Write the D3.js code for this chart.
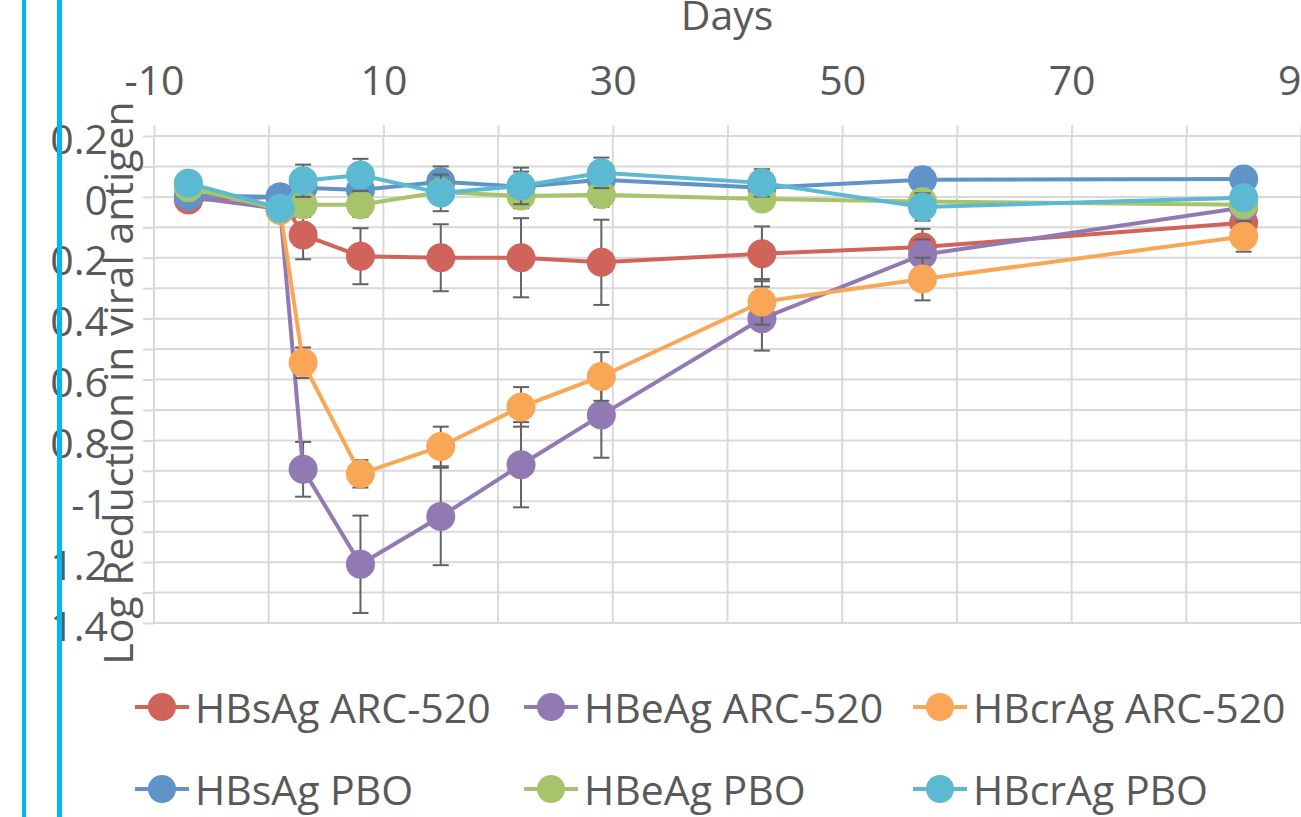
<!DOCTYPE html>
<html>
<head>
<meta charset="utf-8">
<script src="https://cdn.jsdelivr.net/npm/d3@7"></script>
<style>
  body { margin: 0; background: #fff; }
  svg text { font-family: "Open Sans", sans-serif; fill: #595959; }
</style>
</head>
<body>
<svg id="chart" width="1301" height="817"></svg>
<script>
// days of each measurement
var days = [-7, 1, 3, 8, 15, 22, 29, 43, 57, 85];

// log reduction means
var hbsArc   = [-0.01, 0.0, -0.125, -0.195, -0.2, -0.2, -0.215, -0.187, -0.165, -0.085];
var hbeArc   = [0.0, -0.04, -0.895, -1.207, -1.05, -0.88, -0.717, -0.4, -0.19, -0.035];
var hbcrArc  = [0.045, -0.045, -0.545, -0.91, -0.82, -0.69, -0.59, -0.345, -0.27, -0.13];
var hbsPbo   = [0.005, 0.0, 0.03, 0.023, 0.05, 0.033, 0.056, 0.03, 0.056, 0.059];
var hbePbo   = [0.03, -0.04, -0.026, -0.026, 0.016, 0.003, 0.007, -0.007, -0.015, -0.026];
var hbcrPbo  = [0.045, -0.037, 0.053, 0.072, 0.013, 0.036, 0.079, 0.046, -0.033, -0.003];

// error bar half widths
var hbsArcErr  = [0, 0.02, 0.08, 0.092, 0.11, 0.13, 0.14, 0.09, 0.06, 0.05];
var hbeArcErr  = [0, 0.02, 0.09, 0.16, 0.16, 0.14, 0.14, 0.105, 0.05, 0.03];
var hbcrArcErr = [0, 0.02, 0.05, 0.045, 0.065, 0.065, 0.08, 0.075, 0.07, 0.05];
var hbsPboErr  = [0, 0.02, 0.05, 0.05, 0.05, 0.05, 0.05, 0.045, 0.04, 0.03];
var hbePboErr  = [0, 0.02, 0.04, 0.04, 0.04, 0.04, 0.04, 0.03, 0.03, 0.03];
var hbcrPboErr = [0, 0.02, 0.053, 0.053, 0.06, 0.06, 0.05, 0.045, 0.045, 0.03];

var seriesNames = ["HBsAg ARC-520", "HBeAg ARC-520", "HBcrAg ARC-520",
                   "HBsAg PBO", "HBeAg PBO", "HBcrAg PBO"];
var seriesColors = ["#d0645a", "#917ab3", "#f9a757", "#6094c8", "#a7c46b", "#5bb9d2"];

var xTicks = [-10, 10, 30, 50, 70, 90];
var yTicks = [0.2, 0, -0.2, -0.4, -0.6, -0.8, -1, -1.2, -1.4];

var series = [
  { name: seriesNames[0], color: seriesColors[0], vals: hbsArc,  err: hbsArcErr },
  { name: seriesNames[1], color: seriesColors[1], vals: hbeArc,  err: hbeArcErr },
  { name: seriesNames[2], color: seriesColors[2], vals: hbcrArc, err: hbcrArcErr },
  { name: seriesNames[3], color: seriesColors[3], vals: hbsPbo,  err: hbsPboErr },
  { name: seriesNames[4], color: seriesColors[4], vals: hbePbo,  err: hbePboErr },
  { name: seriesNames[5], color: seriesColors[5], vals: hbcrPbo, err: hbcrPboErr }
];

var svg = d3.select("#chart");
var gridColor = "#d9d9d9";

var x = d3.scaleLinear().domain([-10, 90]).range([154, 1301]);
var y = d3.scaleLinear().domain([0.2, -1.4]).range([136, 623]);

var xMinor = d3.range(-10, 91, 10);
var yMinor = d3.range(-14, 3).map(function (k) { return k / 10; });

// gridlines
svg.append("g").selectAll("line").data(xMinor).enter().append("line")
  .attr("x1", function (d) { return x(d); })
  .attr("x2", function (d) { return x(d); })
  .attr("y1", y(0.2)).attr("y2", y(-1.4))
  .style("stroke", gridColor).style("stroke-width", 2);

svg.append("g").selectAll("line").data(yMinor).enter().append("line")
  .attr("x1", x(-10)).attr("x2", x(90))
  .attr("y1", function (d) { return y(d); })
  .attr("y2", function (d) { return y(d); })
  .style("stroke", gridColor).style("stroke-width", 2);

// top axis
var xAxis = d3.axisTop(x)
  .tickValues(xMinor)
  .tickSize(11)
  .tickPadding(30)
  .tickFormat(function (d) { return xTicks.indexOf(d) >= 0 ? d : ""; });

var gx = svg.append("g").attr("transform", "translate(0," + y(0.2) + ")").call(xAxis);
gx.select(".domain").remove();
gx.selectAll(".tick line").style("stroke", gridColor).style("stroke-width", 2);
gx.selectAll(".tick text").style("font-size", "41px").style("font-family", "Open Sans").attr("fill", "#595959");

// left axis, labels clipped at the left edge like the reference
svg.append("clipPath").attr("id", "yclip")
  .append("rect").attr("x", 51).attr("y", 0).attr("width", 1250).attr("height", 817);

var yAxis = d3.axisLeft(y)
  .tickValues(yMinor)
  .tickSize(11)
  .tickPadding(35)
  .tickFormat(function (d) {
    var hit = yTicks.some(function (t) { return Math.abs(t - d) < 1e-9; });
    return hit ? String(+d.toFixed(1)) : "";
  });

var gyWrap = svg.append("g").attr("clip-path", "url(#yclip)");
var gy = gyWrap.append("g").attr("transform", "translate(" + x(-10) + ",0)").call(yAxis);
gy.select(".domain").remove();
gy.selectAll(".tick line").style("stroke", gridColor).style("stroke-width", 2);
gy.selectAll(".tick text").style("font-size", "41px").style("font-family", "Open Sans")
  .attr("fill", "#595959").attr("dy", "0.42em");

// axis titles
svg.append("text")
  .attr("x", 727).attr("y", 30)
  .attr("text-anchor", "middle")
  .style("font-size", "41px")
  .text("Days");

svg.append("text")
  .attr("transform", "translate(133,383) rotate(-90)")
  .attr("text-anchor", "middle")
  .style("font-size", "41px")
  .text("Log Reduction in viral antigen");

// series
var line = d3.line()
  .x(function (d, i) { return x(days[i]); })
  .y(function (d) { return y(d); });

series.forEach(function (s) {
  var g = svg.append("g");

  var eb = g.selectAll("g.err").data(s.vals).enter().append("g").attr("class", "err");
  eb.append("line")
    .attr("x1", function (d, i) { return x(days[i]); })
    .attr("x2", function (d, i) { return x(days[i]); })
    .attr("y1", function (d, i) { return y(d + s.err[i]); })
    .attr("y2", function (d, i) { return y(d - s.err[i]); });
  eb.append("line")
    .attr("x1", function (d, i) { return x(days[i]) - 8; })
    .attr("x2", function (d, i) { return x(days[i]) + 8; })
    .attr("y1", function (d, i) { return y(d + s.err[i]); })
    .attr("y2", function (d, i) { return y(d + s.err[i]); });
  eb.append("line")
    .attr("x1", function (d, i) { return x(days[i]) - 8; })
    .attr("x2", function (d, i) { return x(days[i]) + 8; })
    .attr("y1", function (d, i) { return y(d - s.err[i]); })
    .attr("y2", function (d, i) { return y(d - s.err[i]); });
  eb.selectAll("line").style("stroke", "#626262").style("stroke-width", 2);

  g.append("path")
    .attr("d", line(s.vals))
    .style("fill", "none")
    .style("stroke", s.color)
    .style("stroke-width", 4);

  g.selectAll("circle").data(s.vals).enter().append("circle")
    .attr("cx", function (d, i) { return x(days[i]); })
    .attr("cy", function (d) { return y(d); })
    .attr("r", 14.5)
    .style("fill", s.color);
});

// legend
var legX = [162, 551, 940];
var legY = [707, 789];
var leg = svg.append("g").selectAll("g").data(series).enter().append("g")
  .attr("transform", function (d, i) {
    return "translate(" + legX[i % 3] + "," + legY[Math.floor(i / 3)] + ")";
  });
leg.append("line")
  .attr("x1", -27).attr("x2", 27).attr("y1", 0).attr("y2", 0)
  .style("stroke", function (d) { return d.color; })
  .style("stroke-width", 4);
leg.append("circle")
  .attr("r", 14)
  .style("fill", function (d) { return d.color; });
leg.append("text")
  .attr("x", 33).attr("y", 16)
  .style("font-size", "41px")
  .text(function (d) { return d.name; });

// cyan frame lines at the left edge
svg.append("rect").attr("x", 22).attr("y", 0).attr("width", 4).attr("height", 817).style("fill", "#00b7f1");
svg.append("rect").attr("x", 57).attr("y", 0).attr("width", 5).attr("height", 817).style("fill", "#00b7f1");
</script>
</body>
</html>
